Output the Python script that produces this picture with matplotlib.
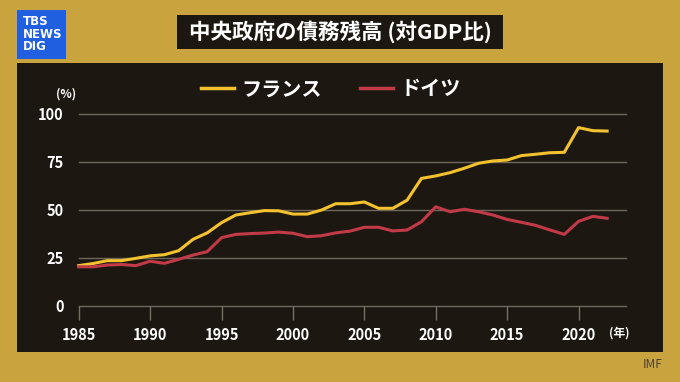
import numpy as np
import matplotlib.pyplot as plt
from matplotlib.patches import Rectangle

plt.rcParams['font.family'] = ['Noto Sans CJK JP', 'DejaVu Sans']

years = list(range(1985, 2023))
france = [20.9, 22.0, 23.5, 23.5, 24.7, 26.0, 26.6, 28.7, 34.6, 38.0,
          43.3, 47.3, 48.5, 49.6, 49.5, 47.8, 47.8, 49.9, 53.2, 53.2,
          54.1, 50.8, 50.8, 55.1, 66.4, 67.7, 69.4, 71.7, 74.3, 75.5,
          76.0, 78.3, 79.0, 79.8, 80.0, 92.9, 91.3, 91.1]
germany = [20.3, 20.3, 21.2, 21.5, 20.9, 23.2, 22.1, 24.2, 26.4, 28.2,
           35.5, 37.2, 37.6, 37.9, 38.4, 37.8, 36.0, 36.5, 38.0, 38.9,
           40.9, 40.9, 39.0, 39.5, 43.8, 51.6, 49.0, 50.3, 49.0, 47.3,
           45.0, 43.5, 41.9, 39.5, 37.2, 44.0, 46.6, 45.6]
xticks = [1985, 1990, 1995, 2000, 2005, 2010, 2015, 2020]
yticks = [0, 25, 50, 75, 100]

W, H = 680, 382
fig = plt.figure(figsize=(6.8, 3.82), dpi=100)
fig.patch.set_facecolor('#c9a43e')

def box(x0, y0, x1, y1, color):
    # pixel coords, top-left origin
    fig.patches.append(Rectangle((x0 / W, 1 - y1 / H), (x1 - x0) / W, (y1 - y0) / H,
                                 transform=fig.transFigure, facecolor=color,
                                 edgecolor='none', zorder=-5))

box(17, 63, 663, 352, '#1c1811')   # dark panel
box(177, 15, 503, 49, '#1c1811')   # title box
box(17, 10, 66, 59, '#1f5fe0')     # logo

fig.text(340 / W, 1 - 32 / H, '中央政府の債務残高 (対GDP比)', color='white',
         fontsize=15.5, fontweight='bold', ha='center', va='center')
fig.text(23 / W, 1 - 34 / H, 'TBS\nNEWS\nDIG', color='white', fontsize=8.5,
         fontweight='bold', ha='left', va='center', linespacing=0.95,
         family=['DejaVu Sans'])
fig.text(663 / W, 1 - 364 / H, 'IMF', color='#4a4030', fontsize=8.5,
         ha='right', va='center')

ax = fig.add_axes([78.7 / W, 76.3 / H, 547 / W, 191.7 / H])
ax.set_facecolor('none')
ax.plot(years, france, color='#f3c22e', lw=2.2, label='フランス', clip_on=False, zorder=3)
ax.plot(years, germany, color='#c23a48', lw=2.2, label='ドイツ', clip_on=False, zorder=3)

ax.set_xlim(1985, 2023.3)
ax.set_ylim(0, 100)
ax.set_xticks(xticks)
ax.set_yticks(yticks)
for y in yticks:
    ax.axhline(y, color='#6e685c', lw=1.0, zorder=1, clip_on=False)
for s in ax.spines.values():
    s.set_visible(False)
ax.tick_params(axis='x', colors='#77725f', length=10, width=1.0, pad=5,
               labelcolor='white', labelsize=10.5)
ax.tick_params(axis='y', length=0, pad=11, labelcolor='white', labelsize=10.5)
for lab in ax.get_xticklabels() + ax.get_yticklabels():
    lab.set_fontweight('bold')

fig.text(66 / W, 1 - 94 / H, '(%)', color='white', fontsize=8.5,
         fontweight='bold', ha='center', va='center')
fig.text(619 / W, 1 - 333 / H, '(年)', color='white', fontsize=8.5,
         fontweight='bold', ha='center', va='center')

leg = fig.legend(loc='center', bbox_to_anchor=(331 / W, 1 - 89 / H), ncol=2,
                 frameon=False, handlelength=1.65, handletextpad=0.35,
                 columnspacing=1.9, prop={'weight': 'bold', 'size': 14.5})
for t in leg.get_texts():
    t.set_color('white')
for h in leg.get_lines():
    h.set_linewidth(2.5)

fig.savefig('out.png', dpi=100, facecolor=fig.get_facecolor())
